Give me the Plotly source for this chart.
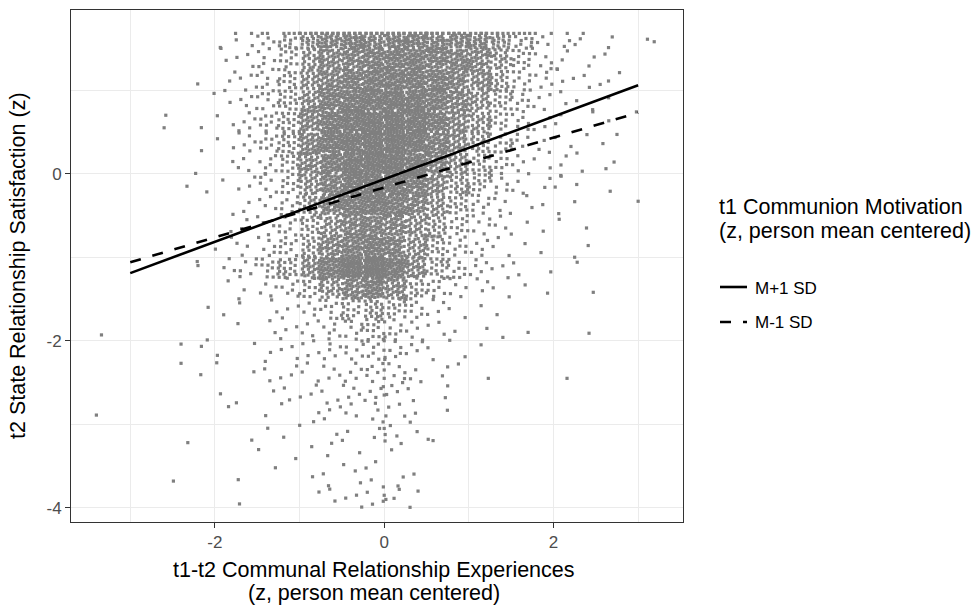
import plotly.graph_objects as go

# ---------------- data ----------------
# density of the grey point cloud: counts of points per 0.25 x 0.25 cell
X_BIN_LEFT = [-2.25, -2.0, -1.75, -1.5, -1.25, -1.0, -0.75, -0.5, -0.25, 0.0,
              0.25, 0.5, 0.75, 1.0, 1.25, 1.5, 1.75, 2.0, 2.25, 2.5]
Y_BIN_LOW = [1.5, 1.25, 1.0, 0.75, 0.5, 0.25, 0.0, -0.25, -0.5, -0.75, -1.0, -1.25,
             -1.5, -1.75, -2.0, -2.25, -2.5, -2.75, -3.0, -3.25, -3.5, -3.75, -4.0]
CELL_COUNTS = [
    [0, 1, 2, 4, 10, 20, 30, 32, 30, 32, 32, 30, 28, 26, 18, 9, 4, 2, 2, 1],
    [0, 2, 3, 6, 12, 24, 36, 42, 46, 50, 50, 46, 42, 36, 24, 12, 5, 3, 2, 1],
    [1, 2, 4, 7, 14, 28, 40, 48, 52, 55, 52, 48, 42, 32, 20, 10, 5, 3, 2, 1],
    [1, 2, 4, 8, 16, 32, 46, 54, 58, 62, 58, 50, 40, 28, 16, 8, 4, 2, 2, 1],
    [1, 2, 5, 9, 18, 36, 52, 60, 65, 68, 62, 50, 36, 24, 12, 7, 3, 2, 1, 1],
    [1, 2, 5, 9, 18, 38, 54, 62, 68, 68, 60, 46, 32, 20, 11, 6, 3, 2, 1, 1],
    [1, 1, 3, 7, 15, 34, 52, 62, 68, 65, 55, 40, 28, 16, 9, 5, 2, 2, 1, 1],
    [1, 1, 3, 6, 12, 28, 46, 58, 62, 58, 48, 35, 22, 13, 7, 3, 2, 1, 1, 0],
    [0, 1, 2, 4, 10, 22, 40, 52, 55, 52, 40, 27, 16, 9, 4, 2, 1, 1, 1, 0],
    [0, 1, 2, 4, 8, 17, 30, 40, 44, 40, 30, 20, 11, 6, 3, 2, 1, 1, 0, 0],
    [0, 2, 3, 6, 10, 20, 36, 48, 52, 44, 28, 17, 9, 5, 3, 1, 1, 0, 0, 0],
    [1, 3, 6, 10, 18, 32, 50, 74, 80, 58, 33, 17, 9, 5, 3, 2, 1, 0, 0, 0],
    [0, 1, 2, 4, 7, 14, 25, 40, 50, 33, 17, 9, 5, 3, 2, 1, 0, 0, 0, 0],
    [0, 1, 1, 2, 3, 5, 9, 14, 22, 14, 8, 4, 2, 1, 1, 0, 0, 0, 0, 0],
    [0, 0, 1, 2, 3, 4, 6, 8, 12, 8, 5, 3, 2, 1, 1, 0, 0, 0, 0, 0],
    [1, 1, 1, 2, 3, 4, 5, 6, 8, 6, 4, 2, 1, 1, 0, 0, 0, 0, 0, 0],
    [1, 1, 1, 2, 3, 3, 4, 5, 6, 5, 3, 2, 1, 0, 0, 0, 0, 0, 0, 0],
    [0, 1, 1, 1, 2, 3, 3, 4, 5, 4, 2, 1, 0, 0, 0, 0, 0, 0, 0, 0],
    [0, 1, 0, 1, 1, 2, 3, 3, 3, 3, 2, 1, 0, 0, 0, 0, 0, 0, 0, 0],
    [0, 0, 1, 1, 1, 1, 2, 2, 2, 3, 1, 1, 0, 0, 0, 0, 0, 0, 0, 0],
    [0, 0, 0, 1, 1, 1, 1, 2, 1, 1, 0, 0, 0, 0, 0, 0, 0, 0, 0, 0],
    [0, 0, 1, 1, 0, 1, 2, 2, 2, 2, 1, 0, 0, 0, 0, 0, 0, 0, 0, 0],
    [0, 0, 1, 0, 0, 1, 2, 3, 3, 2, 1, 0, 0, 0, 0, 0, 0, 0, 0, 0],
]
TOP_ROW_HIGH = 1.66
# points sitting on the scale ceiling (y = 1.68), counts per x bin
CEILING_Y = 1.68
CEILING_COUNTS = [0, 1, 1, 2, 4, 7, 8, 8, 8, 8, 8, 8, 7, 6, 5, 4, 2, 1, 1, 0]
# isolated points read individually
OUTLIER_X = [-3.40, -3.34, -2.58, -2.60, -2.33, -2.49, -2.32, -2.40, -2.40, -2.09,
             -2.08, -2.20, 3.11, 3.19, 2.98, 3.00, 2.67, 2.39, 2.41, 2.65, 2.78,
             2.65, 2.62, 2.75, 2.28, 2.47, 2.42, 2.16, 1.70, 1.93, 1.23, 0.75,
             0.52, 0.40, 0.15, 2.25, 2.02, 2.09, 2.34,
             0.00, 0.01, 0.00, -0.01, 0.00, 0.02, 0.00, 0.01, -0.01, 0.00, 0.02, 0.00]
OUTLIER_Y = [-2.89, -1.93, 0.70, 0.55, -0.15, -3.68, -3.22, -2.04, -2.27, -1.99,
             -1.60, -1.10, 1.61, 1.58, 0.74, -0.33, -0.21, -0.65, -0.86, 1.51, 1.21,
             1.11, 0.06, 0.47, -1.06, -1.42, -1.91, -2.45, -1.90, -1.43, -2.45, -2.54,
             -3.18, -3.80, -3.14, -1.00, -0.16, -0.03, 0.03,
             -2.00, -2.20, -2.35, -2.55, -2.65, -2.90, -3.05, -3.20, -3.75, -3.85, -3.90, -2.45]

# simple-slope lines (endpoints)
LINE_X = [-3.0, 3.0]
HIGH_Y = [-1.19, 1.06]   # M+1 SD
LOW_Y = [-1.06, 0.73]    # M-1 SD

X_TICKS = [-2, 0, 2]
X_TICKTEXT = ["-2", "0", "2"]
Y_TICKS = [-4, -2, 0]
Y_TICKTEXT = ["-4", "-2", "0"]

# ---------------- expand the density grid into points ----------------
BIN_W = 0.25
A1, A2 = 0.7548776662466927, 0.5698402909980532
px, py = [], []
g = 0
for r, ylo in enumerate(Y_BIN_LOW):
    yhi = TOP_ROW_HIGH if r == 0 else ylo + BIN_W
    for c, xlo in enumerate(X_BIN_LEFT):
        for k in range(CELL_COUNTS[r][c]):
            g += 1
            u = (0.5 + g * A1) % 1.0
            v = (0.5 + g * A2) % 1.0
            px.append(xlo + BIN_W * u)
            py.append(ylo + (yhi - ylo) * v)
for c, xlo in enumerate(X_BIN_LEFT):
    for k in range(CEILING_COUNTS[c]):
        g += 1
        px.append(xlo + BIN_W * ((0.5 + g * A1) % 1.0))
        py.append(CEILING_Y)
px += OUTLIER_X
py += OUTLIER_Y

# ---------------- figure ----------------
L, R, T, B = 71, 296, 10, 83
W, H = 979, 605
PW, PH = W - L - R, H - T - B


def xp(p):
    return (p - L) / PW


def yp(p):
    return (H - B - p) / PH


FONT = "Liberation Sans, Arial, sans-serif"

fig = go.Figure()
fig.add_trace(go.Scatter(x=px, y=py, mode="markers",
                         marker=dict(size=3.2, symbol="square", color="#7f7f7f",
                                     line=dict(width=0)),
                         showlegend=False, hoverinfo="skip"))
fig.add_trace(go.Scatter(x=LINE_X, y=HIGH_Y, mode="lines",
                         line=dict(color="black", width=2.6), showlegend=False))
fig.add_trace(go.Scatter(x=LINE_X, y=LOW_Y, mode="lines",
                         line=dict(color="black", width=2.6, dash="11px,12px"),
                         showlegend=False))

axis_common = dict(
    showgrid=True, gridcolor="#ebebeb", gridwidth=1.1, zeroline=False,
    showline=True, mirror=True, linecolor="#333333", linewidth=1,
    ticks="outside", ticklen=5, tickwidth=1, tickcolor="#333333",
    tickfont=dict(family=FONT, size=17, color="#4d4d4d"),
)
fig.update_xaxes(range=[-3.70, 3.53], tickvals=X_TICKS, ticktext=X_TICKTEXT,
                 minor=dict(tickvals=[-3, -1, 1, 3], showgrid=True,
                            gridcolor="#ebebeb", gridwidth=0.55, ticks=""),
                 **axis_common)
fig.update_yaxes(range=[-4.17, 1.96], tickvals=Y_TICKS, ticktext=Y_TICKTEXT,
                 minor=dict(tickvals=[-3, -1, 1], showgrid=True,
                            gridcolor="#ebebeb", gridwidth=0.55, ticks=""),
                 **axis_common)

TS = 21.5
ann = []
ann.append(dict(text="t1-t2 Communal Relationship Experiences", x=xp(374), y=yp(570),
                xref="paper", yref="paper", showarrow=False,
                font=dict(family=FONT, size=TS, color="black"),
                xanchor="center", yanchor="middle"))
ann.append(dict(text="(z, person mean centered)", x=xp(374), y=yp(593),
                xref="paper", yref="paper", showarrow=False,
                font=dict(family=FONT, size=TS, color="black"),
                xanchor="center", yanchor="middle"))
ann.append(dict(text="t2 State Relationship Satisfaction (z)", x=xp(18), y=yp(266),
                xref="paper", yref="paper", showarrow=False, textangle=-90,
                font=dict(family=FONT, size=TS, color="black"),
                xanchor="center", yanchor="middle"))
ann.append(dict(text="t1 Communion Motivation", x=xp(717), y=yp(207),
                xref="paper", yref="paper", showarrow=False,
                font=dict(family=FONT, size=TS, color="black"),
                xanchor="left", yanchor="middle"))
ann.append(dict(text="(z, person mean centered)", x=xp(717), y=yp(231),
                xref="paper", yref="paper", showarrow=False,
                font=dict(family=FONT, size=TS, color="black"),
                xanchor="left", yanchor="middle"))
ann.append(dict(text="M+1 SD", x=xp(753), y=yp(288),
                xref="paper", yref="paper", showarrow=False,
                font=dict(family=FONT, size=17, color="black"),
                xanchor="left", yanchor="middle"))
ann.append(dict(text="M-1 SD", x=xp(753), y=yp(322),
                xref="paper", yref="paper", showarrow=False,
                font=dict(family=FONT, size=17, color="black"),
                xanchor="left", yanchor="middle"))

shapes = [
    dict(type="line", xref="paper", yref="paper", x0=xp(720), x1=xp(747),
         y0=yp(287), y1=yp(287), line=dict(color="black", width=2.6)),
    dict(type="line", xref="paper", yref="paper", x0=xp(720), x1=xp(747),
         y0=yp(322), y1=yp(322), line=dict(color="black", width=2.6, dash="11px,12px")),
]

fig.update_layout(
    width=W, height=H, margin=dict(l=L, r=R, t=T, b=B, pad=0),
    plot_bgcolor="white", paper_bgcolor="white",
    annotations=ann, shapes=shapes, showlegend=False,
    font=dict(family=FONT),
)

fig.write_html("out.html")
